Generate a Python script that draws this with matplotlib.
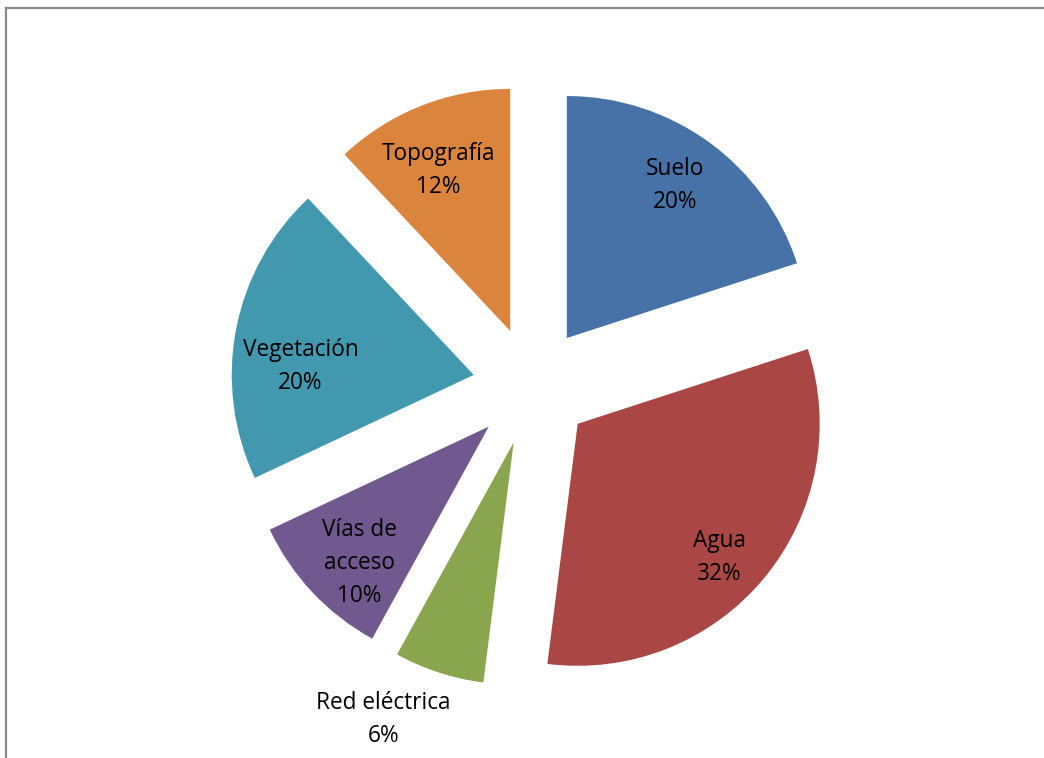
import matplotlib
matplotlib.use("Agg")
import matplotlib.pyplot as plt
import numpy as np
from matplotlib.lines import Line2D

categories = ["Suelo", "Agua", "Red eléctrica", "Vías de\nacceso", "Vegetación", "Topografía"]
values = [20, 32, 6, 10, 20, 12]
pct_labels = ["20%", "32%", "6%", "10%", "20%", "12%"]
colors = ["#4672A8", "#AA4744", "#89A54E", "#71588F", "#4198AF", "#DB843D"]
label_dist = [1.02, 1.05, 1.51, 1.02, 0.96, 0.97]
label_angle_shift = [0.5, -3.0, -6.0, 2.5, 6.0, 2.0]

W, H = 1044, 758
cx, cy, R = 532, 386, 242  # pixel layout of pie

fig = plt.figure(figsize=(W / 100, H / 100), dpi=100)
ax = fig.add_axes([0, 0, 1, 1])
ax.axis("off")

wedges, _ = ax.pie(values, startangle=90, counterclock=False, colors=colors,
                   explode=[0.245] * len(values), radius=1.0,
                   wedgeprops=dict(linewidth=0))
ax.set_xlim(-cx / R, (W - cx) / R)
ax.set_ylim(-(H - cy) / R, cy / R)
ax.set_aspect("auto")

for w, cat, pct, d, s in zip(wedges, categories, pct_labels, label_dist, label_angle_shift):
    mid = np.deg2rad((w.theta1 + w.theta2) / 2 + s)
    ax.text(d * np.cos(mid), d * np.sin(mid), f"{cat}\n{pct}", ha="center", va="center",
            fontsize=16.3, family=["Open Sans", "DejaVu Sans"], color="#000000", linespacing=1.5)

fig.add_artist(Line2D([5.5 / W, 5.5 / W], [0, 1 - 8 / H], transform=fig.transFigure,
                      color="#8a8a8a", lw=1.6))
fig.add_artist(Line2D([5.5 / W, 1], [1 - 8 / H, 1 - 8 / H], transform=fig.transFigure,
                      color="#8a8a8a", lw=1.6))

fig.savefig("out.png", dpi=100, facecolor="white")
